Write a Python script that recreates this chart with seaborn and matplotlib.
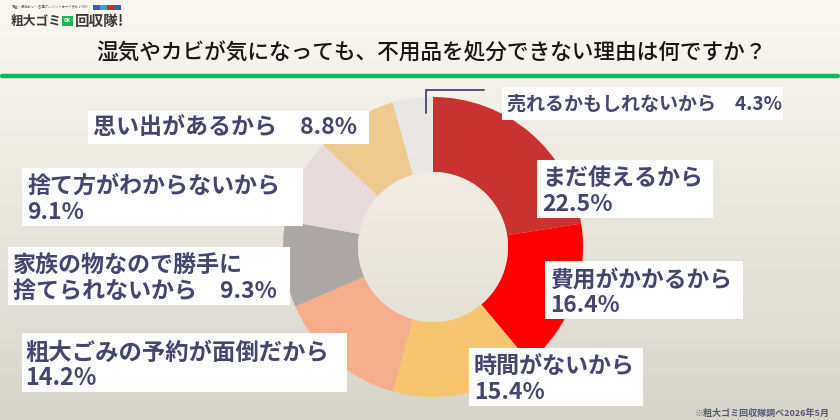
import numpy as np
import matplotlib
matplotlib.use("Agg")
import matplotlib.pyplot as plt
from matplotlib.patches import Rectangle, Circle
import seaborn as sns

sns.set_theme(style="white")
plt.rcParams['font.family'] = ['Noto Sans CJK JP', 'DejaVu Sans']

title = "湿気やカビが気になっても、不用品を処分できない理由は何ですか？"
categories = ["まだ使えるから", "費用がかかるから", "時間がないから", "粗大ごみの予約が面倒だから",
              "家族の物なので勝手に捨てられないから", "捨て方がわからないから", "思い出があるから",
              "売れるかもしれないから"]
values = [22.5, 16.4, 15.4, 14.2, 9.3, 9.1, 8.8, 4.3]
colors = ["#c9322f", "#ff0000", "#f7c56f", "#f5ad8b", "#aca7a5", "#e6dadc", "#efca90", "#e9e7e3"]
label_texts = ["まだ使えるから\n22.5%", "費用がかかるから\n16.4%", "時間がないから\n15.4%",
               "粗大ごみの予約が面倒だから\n14.2%", "家族の物なので勝手に\n捨てられないから　9.3%",
               "捨て方がわからないから\n9.1%", "思い出があるから　8.8%", "売れるかもしれないから　4.3%"]
# box: left, top, right, bottom (px)
boxes = [(537, 160, 713, 218), (545, 261, 743, 319), (469, 348, 643, 406), (22, 333, 347, 392),
         (8, 247, 290, 305), (22, 168, 303, 226), (88, 111, 369, 144), (502, 87, 783, 120)]
sizes = [16.6, 16.4, 16.6, 16.8, 16.6, 16.6, 16.6, 13.7]
INK = "#45466f"

W, H = 840, 420
fig = plt.figure(figsize=(W / 100, H / 100), dpi=100)

# background gradient
bg = fig.add_axes([0, 0, 1, 1], zorder=0)
grad = np.linspace(0, 1, 256)[:, None, None]
top = np.array([251, 248, 241]) / 255
bot = np.array([215, 213, 202]) / 255
bg.imshow(top + (bot - top) * grad, extent=(0, W, H, 0), aspect="auto", zorder=0)
bg.set_xlim(0, W); bg.set_ylim(H, 0); bg.axis("off")

# donut
cx, cy, R = 433, 247, 150
pie_ax = fig.add_axes([(cx - R) / W, 1 - (cy + R) / H, 2 * R / W, 2 * R / H], zorder=1)
pie_ax.pie(values, colors=colors, startangle=90, counterclock=False, radius=1,
           wedgeprops=dict(width=0.5, linewidth=0))
pie_ax.set_xlim(-1, 1); pie_ax.set_ylim(-1, 1)
pie_ax.patch.set_alpha(0)

# hole with a gentle gradient
t = np.array([242, 237, 228]) / 255
b = np.array([228, 225, 214]) / 255
hole_im = pie_ax.imshow(t + (b - t) * grad, extent=(-0.5, 0.5, -0.5, 0.5), aspect="auto", zorder=5)
hole_im.set_clip_path(Circle((0, 0), 0.5, transform=pie_ax.transData))
pie_ax.set_xlim(-1, 1); pie_ax.set_ylim(-1, 1)
pie_ax.axis("off")

# overlay
ov = fig.add_axes([0, 0, 1, 1], zorder=2)
ov.set_xlim(0, W); ov.set_ylim(H, 0); ov.axis("off"); ov.patch.set_alpha(0)

for txt, (l, t_, r, b_), s in zip(label_texts, boxes, sizes):
    ov.add_patch(Rectangle((l, t_), r - l, b_ - t_, fc="white", ec="none"))
    dy = 3 if "\n" in txt else 1
    ov.text(l + 4 + (1 if s != 16.8 else -1), (t_ + b_) / 2 + dy, txt, fontsize=s, color=INK, weight="bold",
            va="center", ha="left", linespacing=1.1)

# leader line
ov.plot([426, 426, 484], [113, 90, 90], color=INK, lw=1.3, solid_joinstyle="miter")

# title and rule
ov.text(431, 53, title, fontsize=15.6, weight="medium", color="#151515", ha="center", va="center")
ov.plot([2, 838], [76, 76], color="#12b85a", lw=3.2, solid_capstyle="round")

# logo
ov.text(12, 7.5, "現金・振込払い・各種クレジットカード支払いOK!", fontsize=2.4, color="#555555", va="center")
for x, c in zip([93, 100, 107, 114], ["#2a62b8", "#3aa0d8", "#c9302f", "#3b5fa8"]):
    ov.add_patch(Rectangle((x, 5), 6.5, 5, fc=c, ec="none"))
ov.text(11, 21, "粗大ゴミ", fontsize=9.2, weight="bold", color="#3a3a3a", va="center")
ov.add_patch(Rectangle((62, 16), 11, 10, fc="#22b558", ec="none"))
ov.text(67.5, 21, "OK", fontsize=3.5, color="white", weight="bold", ha="center", va="center")
ov.text(75, 21, "回収隊!", fontsize=10.5, weight="bold", color="#3a3a3a", va="center")

# source
ov.text(830, 413, "※粗大ゴミ回収隊調べ2026年5月", fontsize=6.5, weight="bold", color="#55557a", ha="right", va="center")

fig.savefig("out.png", dpi=100)
